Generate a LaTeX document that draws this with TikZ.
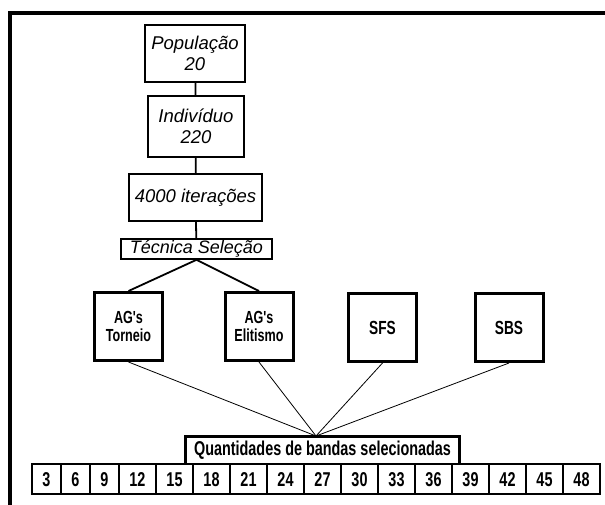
\documentclass[tikz,border=0pt]{standalone}
\usepackage{fontspec}
\setmainfont{Liberation Sans}
\newfontfamily\narrowfont[FakeStretch=0.72]{Liberation Sans}
\begin{document}
\begin{tikzpicture}[x=1pt,y=-1pt,
  topbox/.style={draw, line width=1.6pt, fill=white, align=center, inner sep=0pt,
    font=\fontsize{18.5}{21}\selectfont\itshape},
  algbox/.style={draw, line width=3pt, fill=white, align=center, inner sep=0pt,
    minimum width=68pt, minimum height=68pt, font=\narrowfont\bfseries\fontsize{17.5}{18.5}\selectfont},
  qbox/.style={draw, line width=3pt, fill=white, inner sep=0pt,
    minimum width=274pt, minimum height=28pt,
    font=\narrowfont\bfseries\fontsize{20}{22}\selectfont},
  cell/.style={draw, line width=2.6pt, fill=white, inner sep=0pt, minimum height=30pt,
    text height=14pt, text depth=0pt,
    font=\narrowfont\bfseries\fontsize{20}{22}\selectfont},
  link/.style={line width=1.8pt},
  feed/.style={line width=0.8pt}]

% page area and outer frame
\useasboundingbox (0,0) rectangle (605,504);
\fill[white] (0,0) rectangle (605,504);
\draw[line width=4pt] (10,510) -- (10,13) -- (612,13);

% parameter chain
\node[topbox, minimum width=100pt, minimum height=57pt] (pop) at (195,53.5) {População\\20};
\node[topbox, minimum width=96pt, minimum height=61pt] (ind) at (196,126.5) {Indivíduo\\220};
\node[topbox, minimum width=133pt, minimum height=47pt] (iter) at (195.5,197.5) {4000 iterações};
\node[topbox, minimum width=151pt, minimum height=20pt, font=\fontsize{18}{20}\selectfont\itshape] (tec) at (196.5,249) {Técnica Seleção};

\draw[link] (pop) -- (ind);
\draw[link] (ind) -- (iter);
\draw[link] (iter) -- (tec);

% selection methods
\node[algbox] (agt) at (128.5,326.5) {AG's\\Torneio};
\node[algbox] (age) at (259,326.5) {AG's\\Elitismo};
\node[algbox, font=\narrowfont\bfseries\fontsize{19}{21}\selectfont] (sfs) at (382.5,327.5) {SFS};
\node[algbox, font=\narrowfont\bfseries\fontsize{19}{21}\selectfont] (sbs) at (509,327.5) {SBS};

\draw[link] (tec.south) -- (agt.north);
\draw[link] (tec.south) -- (age.north);

% band counts
\coordinate (hub) at (316,436);
\foreach \m in {agt,age,sfs,sbs}
  \draw[feed] (\m.south) -- (hub);

\node[qbox] (qtd) at (322.5,450) {Quantidades de bandas selecionadas};

\foreach \v/\l/\r [count=\i] in {3/32/61, 6/61/90, 9/90/119, 12/119/156, 15/156/193,
    18/193/230, 21/230/267, 24/267/304, 27/304/341, 30/341/378, 33/378/415,
    36/415/452, 39/452/489, 42/489/526, 45/526/563, 48/563/600}
  \node[cell, minimum width={(\r-\l)*1pt}] (c\i) at ({(\l+\r)/2},479) {\v};
\end{tikzpicture}
\end{document}
